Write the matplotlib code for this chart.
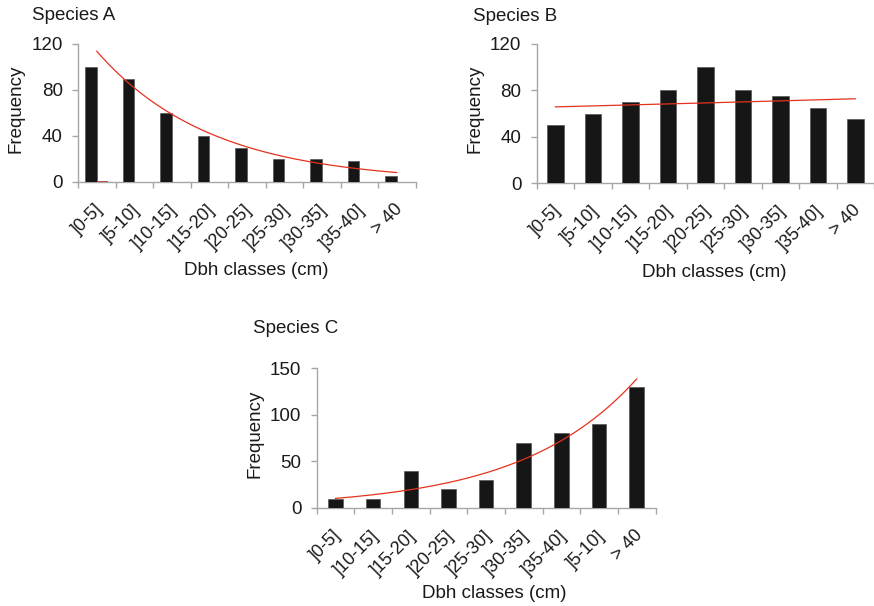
import numpy as np
import matplotlib
matplotlib.use("Agg")
import matplotlib.pyplot as plt
from matplotlib.transforms import ScaledTranslation

plt.rcParams['font.family'] = ['Liberation Sans', 'DejaVu Sans']

# ---------------- data ----------------
labels_ab = [']0-5]', ']5-10]', ']10-15]', ']15-20]', ']20-25]', ']25-30]', ']30-35]', ']35-40]', '> 40']
labels_c = [']0-5]', ']10-15]', ']15-20]', ']20-25]', ']25-30]', ']30-35]', ']35-40]', ']5-10]', '> 40']

freq_a = [100, 90, 60, 40, 30, 20, 20, 18, 5]
freq_a2 = [1, 0, 0, 0, 0, 0, 0, 0, 0]
freq_b = [50, 60, 70, 80, 100, 80, 75, 65, 55]
freq_c = [10, 10, 40, 20, 30, 70, 80, 90, 130]

yticks_ab = [0, 40, 80, 120]
yticks_c = [0, 50, 100, 150]

W, H = 874, 606
fig = plt.figure(figsize=(W / 100, H / 100), dpi=100)

BAR = '#161616'
EDGE = '#555555'
RED = '#e5321f'
GRAY = '#a6a6a6'
TXT = '#1a1a1a'
FS = 13.5


def px_axes(l, r, t, b):
    return fig.add_axes([l / W, 1 - b / H, (r - l) / W, (b - t) / H])


def style(ax, labels, yticks, ymax):
    n = len(labels)
    ax.set_xlim(0, n)
    ax.set_ylim(0, ymax)
    for s in ['top', 'right']:
        ax.spines[s].set_visible(False)
    for s in ['left', 'bottom']:
        ax.spines[s].set_color(GRAY)
        ax.spines[s].set_linewidth(1.0)
    ax.set_xticks(np.arange(0, n + 1))
    ax.set_xticklabels([])
    ax.set_xticks(np.arange(n) + 0.5, labels, minor=True)
    ax.tick_params(axis='x', which='major', length=4, width=1, color=GRAY, direction='out')
    ax.tick_params(axis='x', which='minor', length=0, pad=18, labelsize=13)
    off = ScaledTranslation(3 / 100, 0, fig.dpi_scale_trans)
    for t in ax.get_xticklabels(minor=True):
        t.set_rotation(45)
        t.set_ha('right')
        t.set_va('center')
        t.set_rotation_mode('anchor')
        t.set_color(TXT)
        t.set_transform(t.get_transform() + off)
    ax.set_yticks(yticks)
    ax.tick_params(axis='y', length=4, width=1, color=GRAY, pad=7, labelsize=FS, labelcolor=TXT)


def exp_trend(ax, vals):
    x = np.arange(1, len(vals) + 1)
    b, a = np.polyfit(x, np.log(vals), 1)
    xs = np.linspace(1, len(vals), 200)
    ax.plot(xs - 0.5, np.exp(a + b * xs), color=RED, lw=0.9, zorder=5)


# ---------------- Species A ----------------
axA = px_axes(78, 415.5, 44, 182)
xa = np.arange(len(freq_a)) + 0.5
wa = 0.305
axA.bar(xa - wa / 2, freq_a, width=wa, color=BAR, edgecolor=EDGE, linewidth=0.5, zorder=3)
axA.bar(xa + wa / 2, freq_a2, width=wa, color='#c0504d', linewidth=0, zorder=3)
exp_trend(axA, freq_a)
style(axA, labels_ab, yticks_ab, 120)

# ---------------- Species B ----------------
axB = px_axes(536.7, 874, 44, 183)
xb = np.arange(len(freq_b)) + 0.5
axB.bar(xb, freq_b, width=0.44, color=BAR, edgecolor=EDGE, linewidth=0.5, zorder=3)
exp_trend(axB, freq_b)
style(axB, labels_ab, yticks_ab, 120)

# ---------------- Species C ----------------
axC = px_axes(316.7, 655.5, 368.3, 508)
xc = np.arange(len(freq_c)) + 0.5
axC.bar(xc, freq_c, width=0.385, color=BAR, edgecolor=EDGE, linewidth=0.5, zorder=3)
exp_trend(axC, freq_c)
style(axC, labels_c, yticks_c, 150)

# ---------------- texts ----------------
def ftext(x, y, s, **kw):
    fig.text(x / W, 1 - y / H, s, fontsize=FS, color=TXT, **kw)

ftext(32, 20.5, 'Species A', ha='left', va='baseline')
ftext(473, 21, 'Species B', ha='left', va='baseline')
ftext(252.7, 333, 'Species C', ha='left', va='baseline')

ftext(16.5, 108.5, 'Frequency', rotation=90, ha='center', va='center')
ftext(475, 109, 'Frequency', rotation=90, ha='center', va='center')
ftext(255, 433.5, 'Frequency', rotation=90, ha='center', va='center')

ftext(255.8, 270.5, 'Dbh classes (cm)', ha='center', va='center')
ftext(714, 272.5, 'Dbh classes (cm)', ha='center', va='center')
ftext(494.7, 594, 'Dbh classes (cm)', ha='center', va='center')

fig.savefig('out.png', dpi=100)
